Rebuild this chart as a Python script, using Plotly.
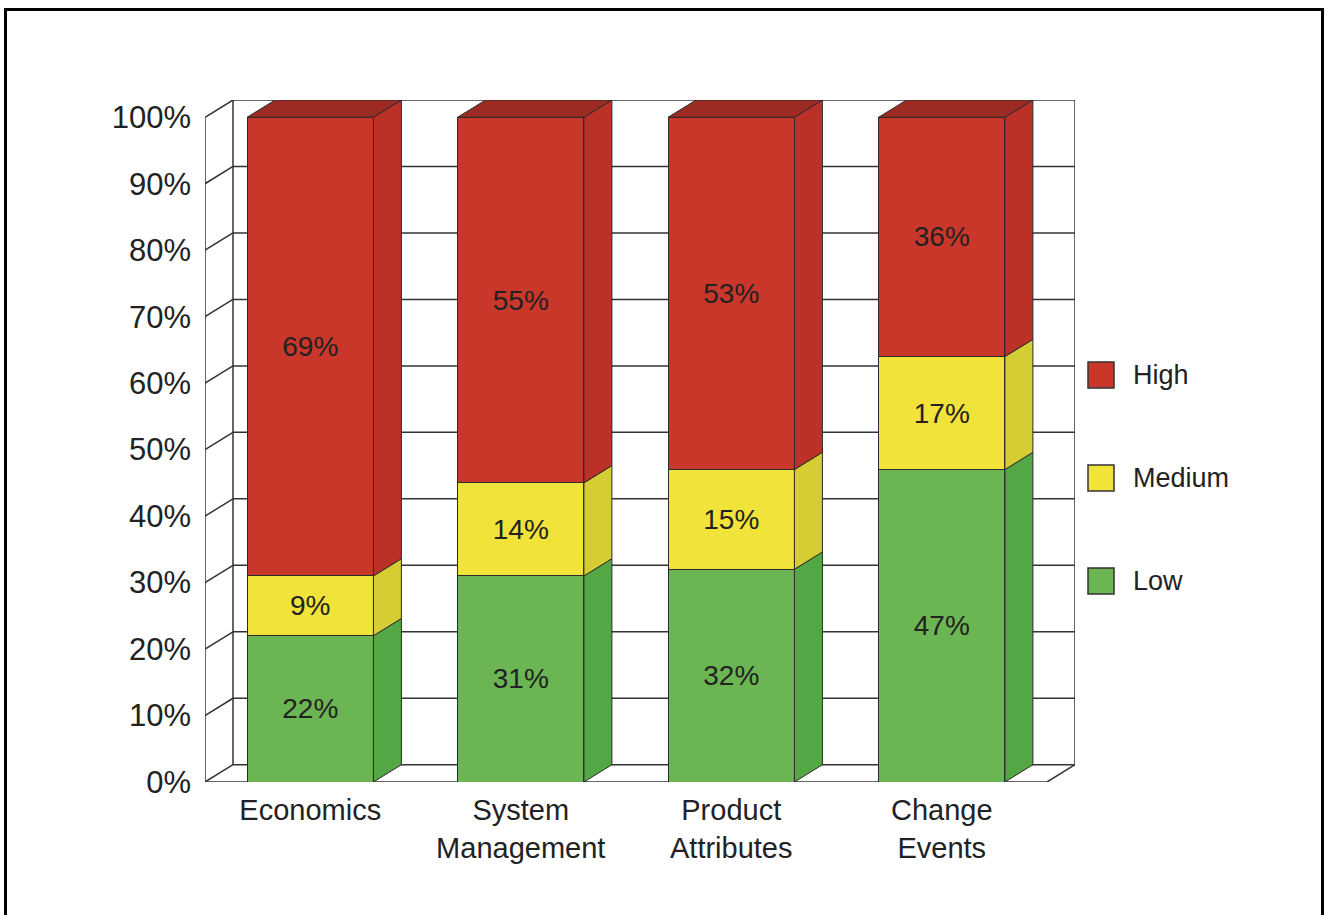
import plotly.graph_objects as go

categories = ["Economics", "System<br>Management", "Product<br>Attributes", "Change<br>Events"]
series_names = ["Low", "Medium", "High"]
low = [22, 31, 32, 47]
medium = [9, 14, 15, 17]
high = [69, 55, 53, 36]
y_ticks = [0, 10, 20, 30, 40, 50, 60, 70, 80, 90, 100]
y_tick_labels = [f"{t}%" for t in y_ticks]

series_values = [low, medium, high]
front_colors = ["#6bb553", "#f2e33a", "#c9372a"]
side_colors = ["#54a745", "#d6cc34", "#bb3128"]
top_color = "#9c2b23"
edge = "#2b2b2b"

W, H = 1327, 915
L, R, T, B = 205, 252, 100, 133
PW, PH = W - L - R, H - T - B
DX = 0.133   # depth offset in category units
DY = 2.6     # depth offset in % units
BW = 0.6     # bar width
XR = [-0.5, 3.5 + DX]
YR = [0, 100 + DY]

def px2paper_x(px):
    return (px - L) / PW

def px2paper_y(py):
    return (H - B - py) / PH

fig = go.Figure()
xs = list(range(len(categories)))

# front faces (stacked bars)
for name, vals, col in zip(series_names, series_values, front_colors):
    fig.add_trace(go.Bar(
        x=xs, y=vals, name=name, width=BW,
        marker=dict(color=col, line=dict(color=edge, width=1)),
        text=[f"{v}%" for v in vals], textposition="inside",
        insidetextanchor="middle", textangle=0,
        textfont=dict(family="Liberation Sans, Arial", size=28, color="#222222"),
        constraintext="none", hoverinfo="skip", showlegend=False,
    ))

# side faces and top faces derived from data
for i in xs:
    base = 0
    for k, vals in enumerate(series_values):
        v = vals[i]
        x1 = i + BW / 2
        px = [x1, x1 + DX, x1 + DX, x1, x1]
        py = [base, base + DY, base + v + DY, base + v, base]
        fig.add_trace(go.Scatter(x=px, y=py, mode="lines", fill="toself",
                                 fillcolor=side_colors[k], line=dict(color=edge, width=1),
                                 hoverinfo="skip", showlegend=False))
        base += v
    x0 = i - BW / 2
    x1 = i + BW / 2
    fig.add_trace(go.Scatter(x=[x0, x0 + DX, x1 + DX, x1, x0],
                             y=[base, base + DY, base + DY, base, base],
                             mode="lines", fill="toself", fillcolor=top_color,
                             line=dict(color=edge, width=1),
                             hoverinfo="skip", showlegend=False))

shapes = []
gl = dict(color="#333333", width=1.5)
# back wall gridlines and left wall diagonals
for t in y_ticks:
    shapes.append(dict(type="line", xref="x", yref="y", x0=XR[0] + DX, x1=XR[1],
                       y0=t + DY, y1=t + DY, line=gl, layer="below"))
    shapes.append(dict(type="line", xref="x", yref="y", x0=XR[0], x1=XR[0] + DX,
                       y0=t, y1=t + DY, line=gl, layer="below"))
# verticals
shapes.append(dict(type="line", xref="x", yref="y", x0=XR[0], x1=XR[0], y0=0, y1=100, line=gl, layer="below"))
shapes.append(dict(type="line", xref="x", yref="y", x0=XR[0] + DX, x1=XR[0] + DX, y0=DY, y1=100 + DY, line=gl, layer="below"))
shapes.append(dict(type="line", xref="x", yref="y", x0=XR[1], x1=XR[1], y0=DY, y1=100 + DY, line=gl, layer="below"))
# floor
shapes.append(dict(type="line", xref="x", yref="y", x0=XR[0], x1=XR[1] - DX, y0=0, y1=0, line=gl, layer="below"))
shapes.append(dict(type="line", xref="x", yref="y", x0=XR[1] - DX, x1=XR[1], y0=0, y1=DY, line=gl, layer="below"))

# outer frame (left, top, right only)
shapes.append(dict(type="path", xref="paper", yref="paper",
                   path=f"M {px2paper_x(5.5)},{px2paper_y(930)} L {px2paper_x(5.5)},{px2paper_y(9.5)} "
                        f"L {px2paper_x(1322.5)},{px2paper_y(9.5)} L {px2paper_x(1322.5)},{px2paper_y(930)}",
                   line=dict(color="black", width=3)))

# custom legend
annotations = []
legend_y = [375, 478, 581]
for name, col, cy in zip(["High", "Medium", "Low"], [front_colors[2], front_colors[1], front_colors[0]], legend_y):
    shapes.append(dict(type="rect", xref="paper", yref="paper",
                       x0=px2paper_x(1088), x1=px2paper_x(1114),
                       y0=px2paper_y(cy + 13), y1=px2paper_y(cy - 13),
                       fillcolor=col, line=dict(color="#333333", width=1.5)))
    annotations.append(dict(xref="paper", yref="paper", x=px2paper_x(1131), y=px2paper_y(cy),
                            xanchor="left", yanchor="middle", text=name, showarrow=False,
                            font=dict(family="Liberation Sans, Arial", size=27, color="#222222")))

fig.update_layout(
    width=W, height=H,
    margin=dict(l=L, r=R, t=T, b=B, pad=0),
    paper_bgcolor="white", plot_bgcolor="white",
    barmode="stack", bargap=0.4,
    showlegend=False,
    shapes=shapes, annotations=annotations,
    xaxis=dict(range=XR, tickvals=xs, ticktext=categories, showgrid=False, zeroline=False,
               showline=False, ticks="", ticklabelstandoff=8,
               tickfont=dict(family="Liberation Sans, Arial", size=29, color="#222222")),
    yaxis=dict(range=YR, tickvals=y_ticks, ticktext=y_tick_labels, showgrid=False, zeroline=False,
               showline=False, ticks="", ticklabelstandoff=13,
               tickfont=dict(family="Liberation Sans, Arial", size=31, color="#222222")),
    font=dict(family="Liberation Sans, Arial"),
)

fig.write_html("out.html")
